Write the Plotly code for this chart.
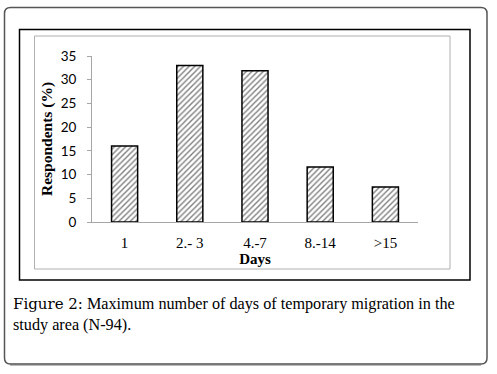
import plotly.graph_objects as go

categories = ["1", "2.- 3", "4.-7", "8.-14", ">15"]
respondents = [16, 33, 31.9, 11.6, 7.4]
y_ticks = [0, 5, 10, 15, 20, 25, 30, 35]

W, H = 497, 374
L, R, T, B = 92, 418, 56, 222  # plot area in pixels

def px(x):
    return (x - L) / (R - L)

def py(y):
    return (B - y) / (B - T)

fig = go.Figure()
fig.add_trace(go.Bar(
    x=categories, y=respondents,
    marker=dict(color="white",
                line=dict(color="black", width=1.5),
                pattern=dict(shape="/", fgcolor="black", bgcolor="white", size=4, solidity=0.35)),
    width=0.4,
))

def rounded(x0, y0, x1, y1, r):
    return (f"M {px(x0+r)},{py(y0)} L {px(x1-r)},{py(y0)} Q {px(x1)},{py(y0)} {px(x1)},{py(y0+r)} "
            f"L {px(x1)},{py(y1-r)} Q {px(x1)},{py(y1)} {px(x1-r)},{py(y1)} "
            f"L {px(x0+r)},{py(y1)} Q {px(x0)},{py(y1)} {px(x0)},{py(y1-r)} "
            f"L {px(x0)},{py(y0+r)} Q {px(x0)},{py(y0)} {px(x0+r)},{py(y0)} Z")

shapes = [
    dict(type="path", xref="paper", yref="paper", path=rounded(4.5, 7.5, 487, 364, 6),
         line=dict(color="#555555", width=1.5)),
    dict(type="path", xref="paper", yref="paper",
         path=f"M {px(10)},{py(364.5)} L {px(481)},{py(364.5)}",
         line=dict(color="#777777", width=2)),
    dict(type="rect", xref="paper", yref="paper", x0=px(19.5), x1=px(470), y0=py(29.5), y1=py(280),
         line=dict(color="black", width=1.5)),
    dict(type="rect", xref="paper", yref="paper", x0=px(34.5), x1=px(450), y0=py(36), y1=py(269),
         line=dict(color="#b0b0b0", width=1)),
]

cap_font = dict(family="Liberation Serif", size=16.2, color="black")
fig.update_layout(
    width=W, height=H,
    margin=dict(l=L, r=W - R, t=T, b=H - B),
    paper_bgcolor="white", plot_bgcolor="white",
    showlegend=False,
    bargap=0.6,
    shapes=shapes,
    xaxis=dict(showline=True, linecolor="#a6a6a6", linewidth=1, ticks="",
               ticklabelstandoff=7,
               tickfont=dict(family="Liberation Serif", size=15, color="black"),
               title=dict(text="<b>Days</b>", font=dict(family="Liberation Serif", size=15, color="black"),
                          standoff=3),
               showgrid=False, fixedrange=True),
    yaxis=dict(range=[0, 35], tickvals=y_ticks, showline=True, linecolor="#a6a6a6", linewidth=1,
               ticks="outside", ticklen=4, tickcolor="#a6a6a6",
               ticklabelstandoff=8,
               tickfont=dict(family="Lato", size=13.5, color="black"),
               title=dict(text="<b>Respondents (%)</b>", font=dict(family="Liberation Serif", size=15.5, color="black"),
                          standoff=4),
               showgrid=False, zeroline=False, fixedrange=True),
    annotations=[
        dict(xref="paper", yref="paper", x=px(11), y=py(314), xanchor="left", yanchor="middle",
             align="left", showarrow=False,
             text=("<span style=\"font-family:DejaVu Serif;font-size:15px\">Figure 2:</span> Maximum number of days of temporary migration in the"
                   "<br>study area (N-94)."),
             font=cap_font),
    ],
)

fig.write_html("out.html", config={"displayModeBar": False},
               post_script="document.body.style.margin='0';")
